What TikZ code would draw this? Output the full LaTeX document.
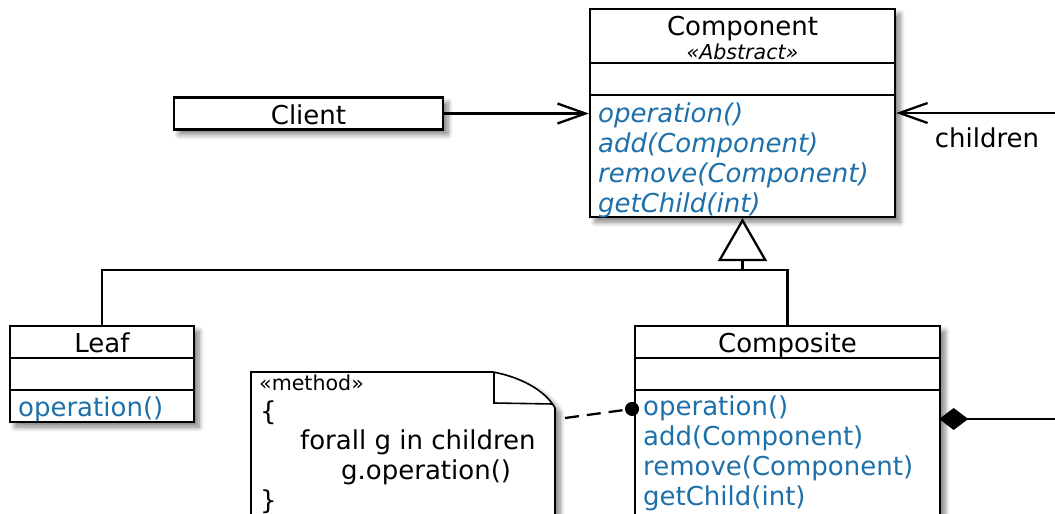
\documentclass[tikz,border=0pt]{standalone}
\usepackage{fontspec}
\setmainfont{DejaVu Sans}
\usetikzlibrary{arrows.meta,shadows.blur}
\definecolor{opblue}{RGB}{30,112,170}
\begin{document}
\begin{tikzpicture}[x=0.5pt,y=-0.5pt,line width=1.15pt,
  shade/.style={blur shadow={shadow xshift=2.5pt,shadow yshift=-2.5pt,shadow blur steps=8,shadow blur radius=2.5pt,shadow opacity=50}},
  classbox/.style={draw,fill=white,line width=1.15pt,inner sep=0pt,shade},
  lbl/.style={inner sep=0pt,text height=10.2pt,text depth=0.3pt,font=\fontsize{13}{15}\selectfont},
  small/.style={inner sep=0pt,text height=8pt,text depth=0.3pt,font=\fontsize{10.3}{12}\selectfont},
  absop/.style={lbl,anchor=west,text=opblue,font=\fontsize{13}{15}\selectfont\itshape},
  op/.style={lbl,anchor=west,text=opblue},
  navarrow/.style={-{Straight Barb[length=14pt,width=10pt,line width=1.15pt]}},
  genarrow/.style={-{Triangle[open,fill=white,length=21.5pt,width=24.5pt,line width=1.15pt]}},
  composition/.style={-{Diamond[length=14.5pt,width=11pt,fill=black]}},
  notelink/.style={dash pattern=on 7pt off 4pt,-{Circle[length=7pt,fill=black]}}]
\useasboundingbox (0,0) rectangle (1055,514);
\clip (0,0) rectangle (1055,514);

% Component (abstract class)
\node[classbox,minimum width=152.5pt,minimum height=104pt] (comp) at (742.5,113) {};
\draw (comp.west |- 0,63) -- (comp.east |- 0,63);
\draw (comp.west |- 0,95) -- (comp.east |- 0,95);
\node[lbl] (compname) at (742.5,26) {Component};
\node[small] (compstereo) at (742.5,52) {\itshape «Abstract»};
\node[absop] (c1) at (597,113) {operation()};
\node[absop] (c2) at (597,143) {add(Component)};
\node[absop] (c3) at (597,173) {remove(Component)};
\node[absop] (c4) at (597,203) {getChild(int)};

% Client
\node[classbox,minimum width=134.5pt,minimum height=16pt] (client) at (308.5,113.5) {};
\node[lbl] (clientname) at (308.5,115) {Client};

% Leaf
\node[classbox,minimum width=92pt,minimum height=48pt] (leaf) at (102,374) {};
\draw (leaf.west |- 0,358) -- (leaf.east |- 0,358);
\draw (leaf.west |- 0,390) -- (leaf.east |- 0,390);
\node[lbl] (leafname) at (102,343) {Leaf};
\node[op] (l1) at (17,407) {operation()};

% Composite
\node[classbox,minimum width=152.5pt,minimum height=104pt] (compo) at (787.5,430) {};
\draw (compo.west |- 0,358) -- (compo.east |- 0,358);
\draw (compo.west |- 0,390) -- (compo.east |- 0,390);
\node[lbl] (componame) at (787.5,343) {Composite};
\node[op] (k1) at (642,406) {operation()};
\node[op] (k2) at (642,436) {add(Component)};
\node[op] (k3) at (642,466) {remove(Component)};
\node[op] (k4) at (642,496) {getChild(int)};

% Note with folded corner
\draw[fill=white,line width=0.8pt,shade]
  (251,560) -- (251,372) -- (493,372)
  .. controls (520,377) and (545,390) .. (555,408) -- (555,560);
\draw[line width=0.8pt] (494,372) -- (494,403) -- (553,404);
\node[small,anchor=west] (nstereo) at (258,383) {«method»};
\node[lbl,anchor=west] (n1) at (259,411) {\{};
\node[lbl,anchor=west] (n2) at (299,440) {forall g in children};
\node[lbl,anchor=west] (n3) at (340,470) {g.operation()};
\node[lbl,anchor=west] (n4) at (259,500) {\}};
\coordinate (notepin) at (565,418);

% Associations
\draw[navarrow] (client.east) -- (client.east -| comp.west);
\coordinate (childend) at (1055,113);
\draw[navarrow] (childend) -- (comp.east);
\node[lbl] (childlbl) at (987,138) {children};

% Generalization
\coordinate (hub) at (742.5,270);
\draw[genarrow] (hub) -- (comp.south);
\draw (leaf.north) |- (hub) -| (compo.north);

% Composition
\coordinate (aggend) at (1055,419);
\draw[composition,shorten >=-1pt] (aggend) -- (aggend -| compo.east);

% Note attachment
\coordinate (pinend) at (639,408);
\draw[notelink] (notepin) -- (pinend);
\end{tikzpicture}
\end{document}
